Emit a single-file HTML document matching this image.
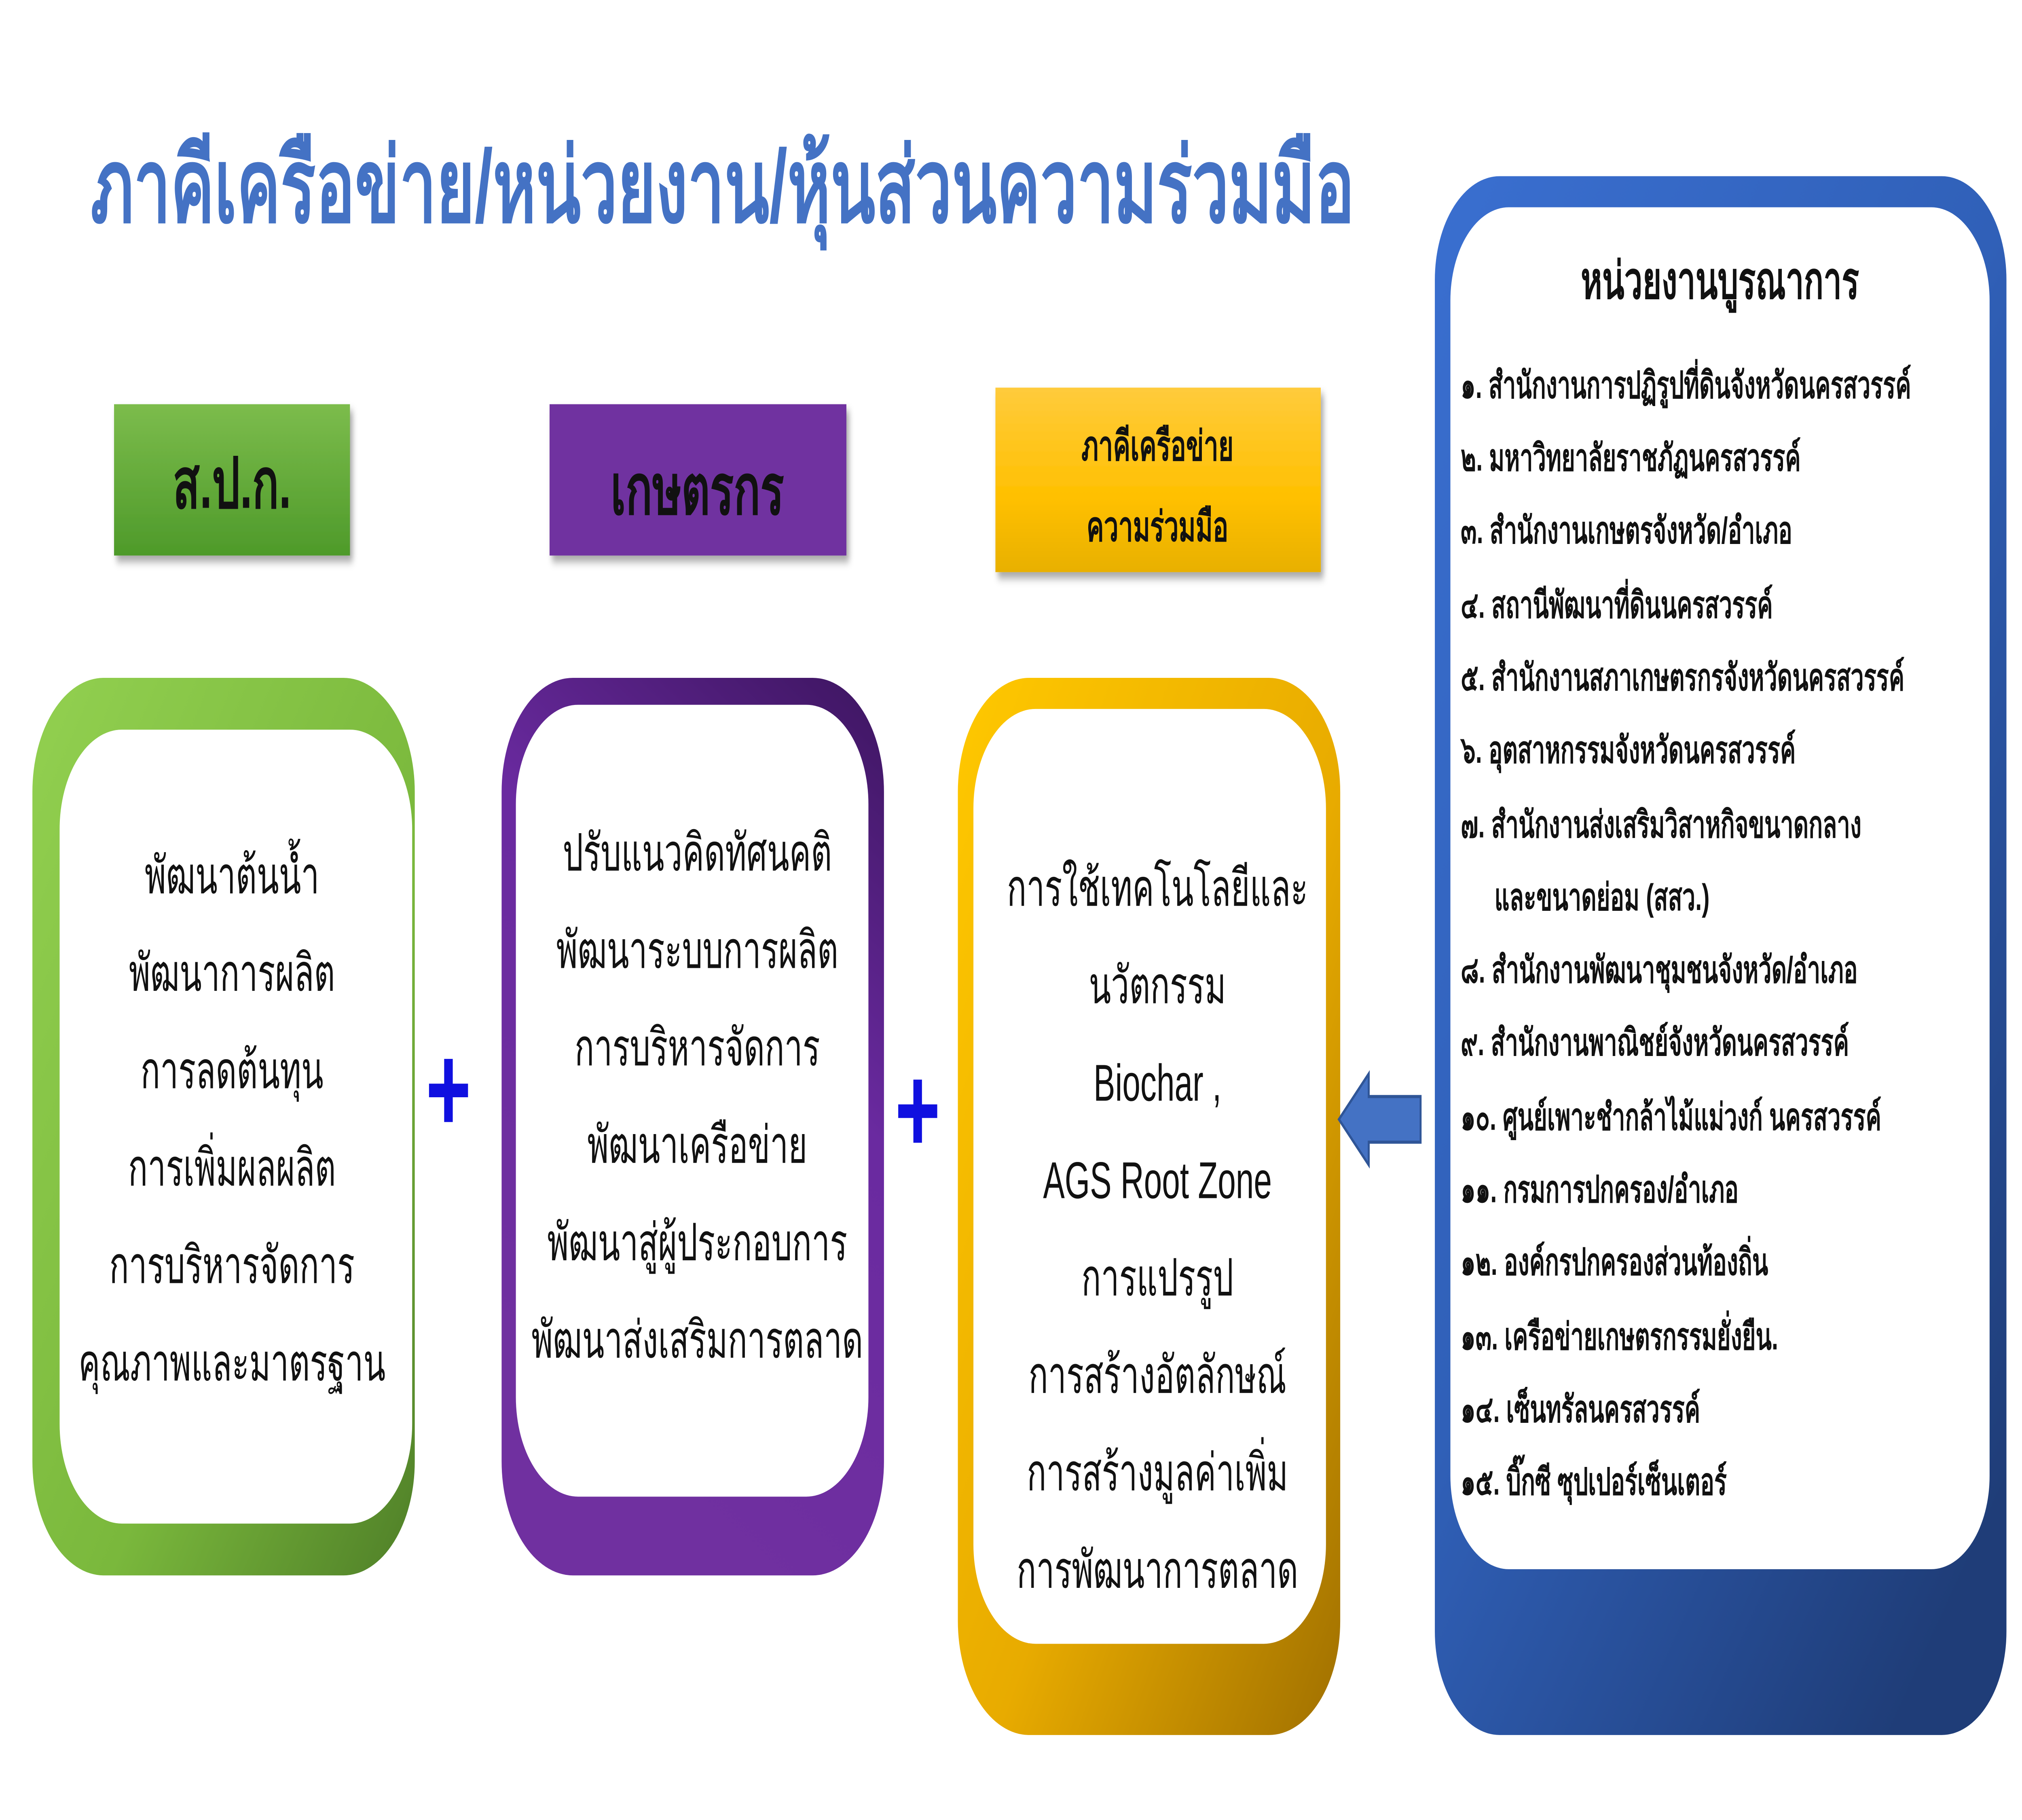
<!DOCTYPE html>
<html><head><meta charset="utf-8"><style>
html,body{margin:0;padding:0;background:#fff;overflow:hidden;width:100%;height:100%;}
svg{display:block;width:100vw;height:100vh;}
text{font-family:"Liberation Sans","Noto Sans CJK SC",sans-serif;}
</style></head><body>
<svg viewBox="0 0 1560 878" preserveAspectRatio="none" xmlns="http://www.w3.org/2000/svg">
<defs>
<linearGradient id="gl" x1="0" y1="0" x2="0" y2="1"><stop offset="0" stop-color="#7cbc4c"/><stop offset="1" stop-color="#4e9a2a"/></linearGradient>
<linearGradient id="yl" x1="0" y1="0" x2="0" y2="1"><stop offset="0" stop-color="#ffcb3c"/><stop offset="0.6" stop-color="#ffc000"/><stop offset="1" stop-color="#e8b000"/></linearGradient>
<linearGradient id="gb" x1="0" y1="0" x2="1" y2="1"><stop offset="0" stop-color="#92d050"/><stop offset="0.6" stop-color="#7ab83c"/><stop offset="1" stop-color="#4f7f28"/></linearGradient>
<linearGradient id="pb" x1="1" y1="0" x2="0.6" y2="1"><stop offset="0" stop-color="#3d1560"/><stop offset="0.45" stop-color="#6a2aa0"/><stop offset="1" stop-color="#7030A0"/></linearGradient>
<linearGradient id="yb" x1="0" y1="0" x2="1" y2="1"><stop offset="0" stop-color="#ffc800"/><stop offset="0.55" stop-color="#e8ab00"/><stop offset="1" stop-color="#a07000"/></linearGradient>
<linearGradient id="bb" x1="0" y1="0" x2="0.8" y2="1"><stop offset="0" stop-color="#3a6fd0"/><stop offset="0.5" stop-color="#3060b8"/><stop offset="1" stop-color="#1f3d78"/></linearGradient>
<filter id="sh" x="-10%" y="-10%" width="130%" height="140%"><feDropShadow dx="2" dy="3" stdDeviation="2" flood-opacity="0.35"/></filter>
</defs>

<text x="70" y="107" font-size="50" font-weight="bold" fill="#4472C4" textLength="975" lengthAdjust="spacingAndGlyphs">ภาคีเครือข่าย/หน่วยงาน/หุ้นส่วนความร่วมมือ</text>

<rect x="88" y="195" width="182" height="73" fill="url(#gl)" filter="url(#sh)"/>
<text x="179" y="245" font-size="34" font-weight="bold" fill="#111" text-anchor="middle">ส.ป.ก.</text>
<rect x="424" y="195" width="229" height="73" fill="#7030A0" filter="url(#sh)"/>
<text x="538" y="248" font-size="34" font-weight="bold" fill="#111" text-anchor="middle">เกษตรกร</text>
<rect x="768" y="187" width="251" height="89" fill="url(#yl)" filter="url(#sh)"/>
<text x="893" y="222" font-size="20" font-weight="bold" fill="#111" text-anchor="middle">ภาคีเครือข่าย</text>
<text x="893" y="261" font-size="20" font-weight="bold" fill="#111" text-anchor="middle">ความร่วมมือ</text>

<rect x="25" y="327" width="295" height="433" rx="55" fill="url(#gb)"/>
<rect x="46" y="352" width="272" height="383" rx="48" fill="#fff"/>
<g font-size="25" fill="#111" text-anchor="middle">
<text x="179" y="431">พัฒนาต้นน้ำ</text>
<text x="179" y="478">พัฒนาการผลิต</text>
<text x="179" y="525">การลดต้นทุน</text>
<text x="179" y="572">การเพิ่มผลผลิต</text>
<text x="179" y="619">การบริหารจัดการ</text>
<text x="179" y="666">คุณภาพและมาตรฐาน</text>
</g>

<text x="346" y="546" font-size="60" font-weight="bold" fill="#1010e0" text-anchor="middle">+</text>

<rect x="387" y="327" width="295" height="433" rx="55" fill="url(#pb)"/>
<rect x="398" y="340" width="272" height="382" rx="48" fill="#fff"/>
<g font-size="25" fill="#111" text-anchor="middle">
<text x="538" y="420">ปรับแนวคิดทัศนคติ</text>
<text x="538" y="467">พัฒนาระบบการผลิต</text>
<text x="538" y="514">การบริหารจัดการ</text>
<text x="538" y="561">พัฒนาเครือข่าย</text>
<text x="538" y="608">พัฒนาสู่ผู้ประกอบการ</text>
<text x="538" y="655">พัฒนาส่งเสริมการตลาด</text>
</g>

<text x="708" y="556" font-size="60" font-weight="bold" fill="#1010e0" text-anchor="middle">+</text>

<rect x="739" y="327" width="295" height="510" rx="55" fill="url(#yb)"/>
<rect x="751" y="342" width="272" height="451" rx="48" fill="#fff"/>
<g font-size="25" fill="#111" text-anchor="middle">
<text x="893" y="437">การใช้เทคโนโลยีและ</text>
<text x="893" y="484">นวัตกรรม</text>
<text x="893" y="531">Biochar ,</text>
<text x="893" y="578">AGS Root Zone</text>
<text x="893" y="625">การแปรรูป</text>
<text x="893" y="672">การสร้างอัตลักษณ์</text>
<text x="893" y="719">การสร้างมูลค่าเพิ่ม</text>
<text x="893" y="766">การพัฒนาการตลาด</text>
</g>

<polygon points="1033,540 1056,518 1056,529 1096,529 1096,551 1056,551 1056,562" fill="#4472C4" stroke="#2f5597" stroke-width="1.5"/>

<rect x="1107" y="85" width="441" height="752" rx="50" fill="url(#bb)"/>
<rect x="1119" y="100" width="416" height="657" rx="45" fill="#fff"/>
<text x="1327" y="144" font-size="25" font-weight="bold" fill="#111" text-anchor="middle">หน่วยงานบูรณาการ</text>
<g font-size="18" font-weight="bold" fill="#111">
<text x="1127" y="192">๑. สำนักงานการปฏิรูปที่ดินจังหวัดนครสวรรค์</text>
<text x="1127" y="227">๒. มหาวิทยาลัยราชภัฏนครสวรรค์</text>
<text x="1127" y="262">๓. สำนักงานเกษตรจังหวัด/อำเภอ</text>
<text x="1127" y="298">๔. สถานีพัฒนาที่ดินนครสวรรค์</text>
<text x="1127" y="333">๕. สำนักงานสภาเกษตรกรจังหวัดนครสวรรค์</text>
<text x="1127" y="368">๖. อุตสาหกรรมจังหวัดนครสวรรค์</text>
<text x="1127" y="404">๗. สำนักงานส่งเสริมวิสาหกิจขนาดกลาง</text>
<text x="1153" y="439">และขนาดย่อม (สสว.)</text>
<text x="1127" y="474">๘. สำนักงานพัฒนาชุมชนจังหวัด/อำเภอ</text>
<text x="1127" y="509">๙. สำนักงานพาณิชย์จังหวัดนครสวรรค์</text>
<text x="1127" y="545">๑๐. ศูนย์เพาะชำกล้าไม้แม่วงก์ นครสวรรค์</text>
<text x="1127" y="580">๑๑. กรมการปกครอง/อำเภอ</text>
<text x="1127" y="615">๑๒. องค์กรปกครองส่วนท้องถิ่น</text>
<text x="1127" y="651">๑๓. เครือข่ายเกษตรกรรมยั่งยืน.</text>
<text x="1127" y="686">๑๔. เซ็นทรัลนครสวรรค์</text>
<text x="1127" y="721">๑๕. บิ๊กซี ซุปเปอร์เซ็นเตอร์</text>
</g>
</svg>
</body></html>
